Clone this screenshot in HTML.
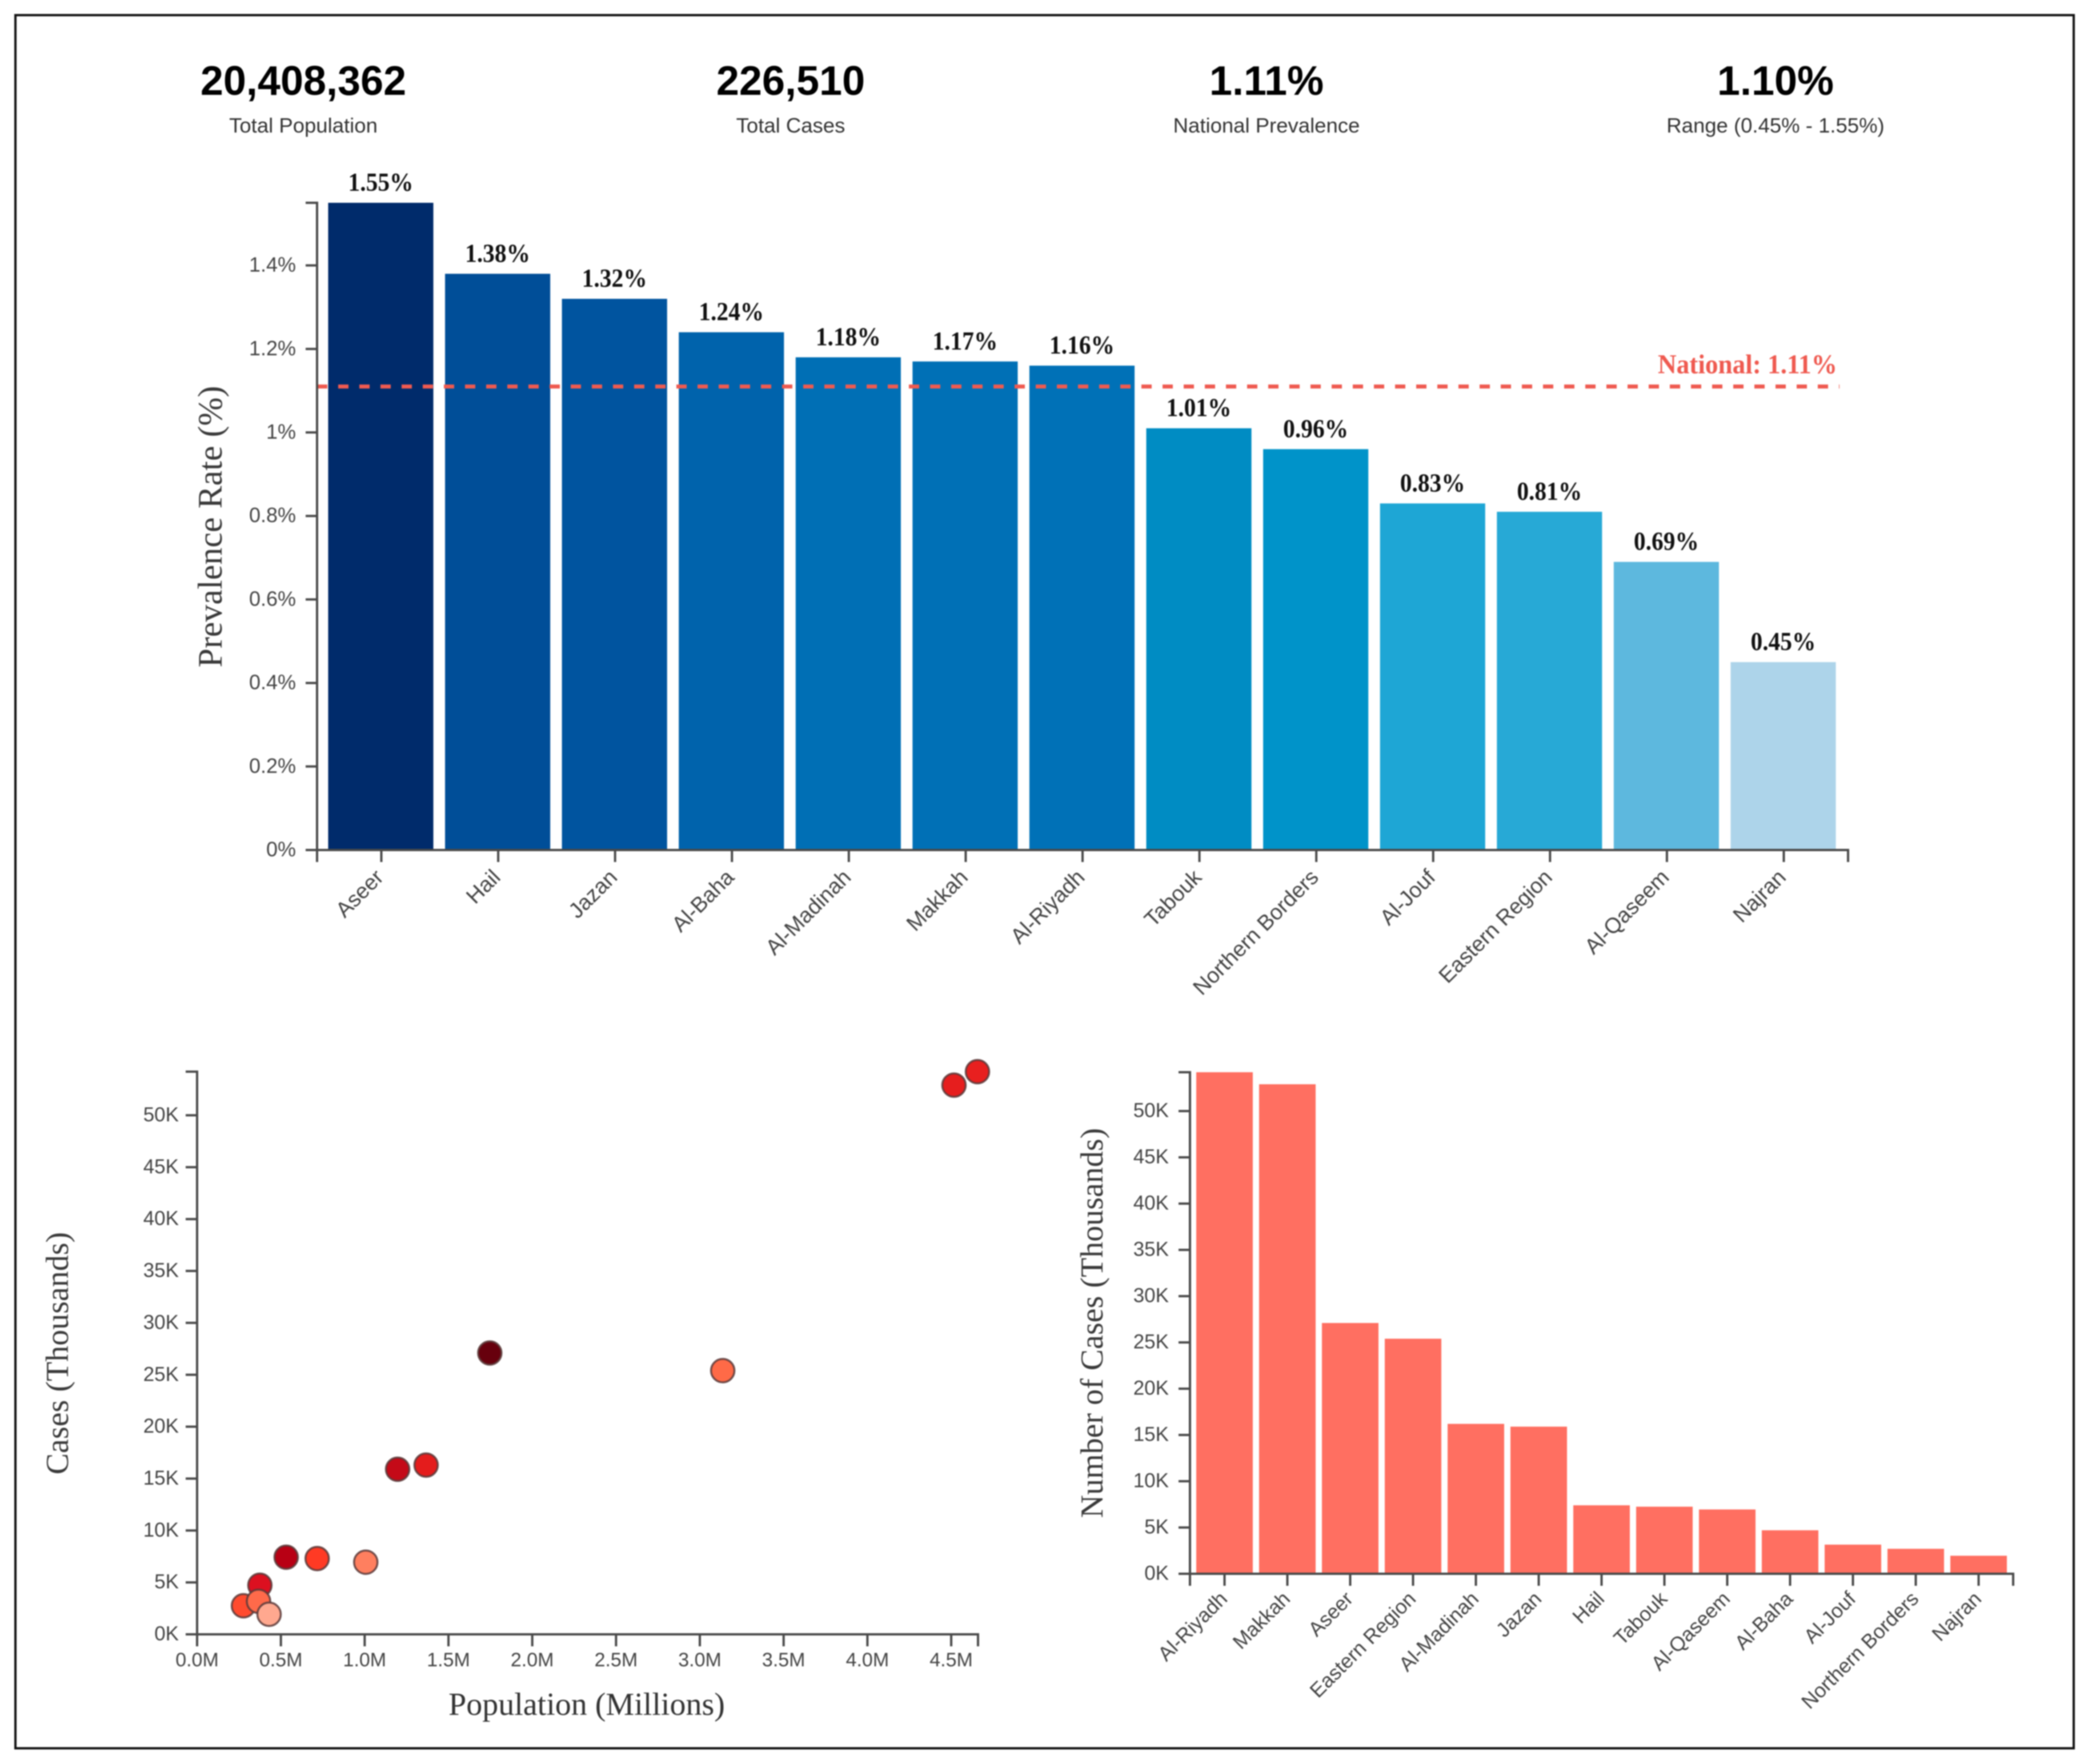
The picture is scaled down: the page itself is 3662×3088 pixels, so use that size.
<!DOCTYPE html>
<html lang="en">
<head>
<meta charset="utf-8">
<title>Prevalence dashboard</title>
<style>
html,body{margin:0;padding:0;background:#fff;}
#stage{display:block;width:3662px;height:3088px;filter:blur(1.1px);}
text{font-family:"Liberation Sans",sans-serif;}
.serif{font-family:"Liberation Serif",serif;}
</style>
</head>
<body>
<svg id="stage" xmlns="http://www.w3.org/2000/svg" width="3662" height="3088" viewBox="0 0 3662 3088">
  <rect x="0" y="0" width="3662" height="3088" fill="#ffffff"/>
  <rect x="27" y="26.5" width="3603" height="3034" fill="none" stroke="#111" stroke-width="4"/>

  <g text-anchor="middle">
    <text x="531" y="166" font-size="72" font-weight="700" fill="#000">20,408,362</text>
    <text x="531" y="232" font-size="36.5" fill="#333">Total Population</text>
  </g>
  <g text-anchor="middle">
    <text x="1384" y="166" font-size="72" font-weight="700" fill="#000">226,510</text>
    <text x="1384" y="232" font-size="36.5" fill="#333">Total Cases</text>
  </g>
  <g text-anchor="middle">
    <text x="2217" y="166" font-size="72" font-weight="700" fill="#000">1.11%</text>
    <text x="2217" y="232" font-size="36.5" fill="#333">National Prevalence</text>
  </g>
  <g text-anchor="middle">
    <text x="3108" y="166" font-size="72" font-weight="700" fill="#000">1.10%</text>
    <text x="3108" y="232" font-size="36.5" fill="#333">Range (0.45% - 1.55%)</text>
  </g>

  <g id="prevalence-chart"></g>
  <g id="scatter-chart"></g>
  <g id="cases-chart"></g>
</svg>

<script>
/* Prevalence by region (%) */
const prevalenceRegions = ["Aseer","Hail","Jazan","Al-Baha","Al-Madinah","Makkah","Al-Riyadh","Tabouk","Northern Borders","Al-Jouf","Eastern Region","Al-Qaseem","Najran"];
const prevalenceValues = [1.55,1.38,1.32,1.24,1.18,1.17,1.16,1.01,0.96,0.83,0.81,0.69,0.45];
const prevalenceTickValues = [0,0.2,0.4,0.6,0.8,1,1.2,1.4];
const prevalenceTickLabels = ["0%","0.2%","0.4%","0.6%","0.8%","1%","1.2%","1.4%"];
const nationalPrevalence = [1.11];

/* Cases by region (thousands) */
const caseRegions = ["Al-Riyadh","Makkah","Aseer","Eastern Region","Al-Madinah","Jazan","Hail","Tabouk","Al-Qaseem","Al-Baha","Al-Jouf","Northern Borders","Najran"];
const caseValues = [54.2,52.9,27.1,25.4,16.2,15.9,7.4,7.25,6.95,4.7,3.15,2.7,1.95];
const caseTickValues = [0,5,10,15,20,25,30,35,40,45,50];
const caseTickLabels = ["0K","5K","10K","15K","20K","25K","30K","35K","40K","45K","50K"];

/* Scatter: population (millions), cases (thousands), prevalence (%) */
const scatterRegions = ["Al-Riyadh","Makkah","Aseer","Eastern Region","Al-Madinah","Jazan","Hail","Tabouk","Al-Qaseem","Al-Baha","Northern Borders","Al-Jouf","Najran"];
const scatterPopulation = [4.66,4.52,1.75,3.14,1.37,1.20,0.535,0.72,1.01,0.378,0.28,0.37,0.433];
const scatterCases = [54.2,52.9,27.1,25.4,16.3,15.9,7.43,7.3,6.95,4.73,2.75,3.18,1.93];
const scatterPrevalence = [1.16,1.17,1.55,0.81,1.18,1.32,1.38,1.01,0.69,1.24,0.96,0.83,0.45];
const populationTickValues = [0,0.5,1,1.5,2,2.5,3,3.5,4,4.5];
const populationTickLabels = ["0.0M","0.5M","1.0M","1.5M","2.0M","2.5M","3.0M","3.5M","4.0M","4.5M"];

const SVG_NS = "http://www.w3.org/2000/svg";
const AXIS = "#4a4a4a";
const TICK_TEXT = "#444";

function el(parent, tag, attrs, txt) {
  const n = document.createElementNS(SVG_NS, tag);
  for (const k in attrs) n.setAttribute(k, attrs[k]);
  if (txt !== undefined) n.textContent = txt;
  parent.appendChild(n);
  return n;
}
function linear(d0, d1, r0, r1) { return v => r0 + (v - d0) / (d1 - d0) * (r1 - r0); }
function band(count, r0, r1, pad) {
  const step = (r1 - r0) / (count - pad + 2 * pad);
  return { step, width: step * (1 - pad), start: i => r0 + step * pad + i * step };
}
function hex(c) { return [1,3,5].map(i => parseInt(c.slice(i, i + 2), 16)); }
function ramp(stops) {
  return v => {
    if (v <= stops[0][0]) return stops[0][1];
    for (let i = 1; i < stops.length; i++) {
      if (v <= stops[i][0]) {
        const t = (v - stops[i-1][0]) / (stops[i][0] - stops[i-1][0]);
        const a = hex(stops[i-1][1]), b = hex(stops[i][1]);
        return "rgb(" + a.map((x, j) => Math.round(x + (b[j] - x) * t)).join(",") + ")";
      }
    }
    return stops[stops.length - 1][1];
  };
}
const blueScale = ramp([[0.45,"#add4ea"],[0.69,"#5db8de"],[0.81,"#27a9d6"],[0.83,"#1ea6d5"],[0.96,"#0093c9"],[1.01,"#008cc3"],[1.16,"#0071b7"],[1.18,"#006fb5"],[1.24,"#0063ac"],[1.32,"#00549f"],[1.38,"#004e98"],[1.55,"#002b6b"]]);
const redScale = ramp([[0.45,"#ffa88f"],[0.69,"#ff7f5f"],[0.81,"#ff6a47"],[0.83,"#ff6a4a"],[0.96,"#ff4b2f"],[1.01,"#ff3a24"],[1.16,"#e8201f"],[1.18,"#e41c1c"],[1.24,"#dc1020"],[1.32,"#c40a18"],[1.38,"#b80014"],[1.55,"#67000d"]]);

function leftAxis(g, name, x, y, ticks, labels, top, bottom, fontSize, labelGap) {
  const axis = el(g, "g", {});
  
  
  const line = el(axis, "path", { d: "M" + (x - 20) + "," + top + "H" + x + "V" + bottom + "H" + (x - 20), fill: "none", stroke: AXIS, "stroke-width": 4 });
  
  
  ticks.forEach((t, i) => {
    const mark = el(axis, "line", { x1: x - 20, x2: x, y1: y(t), y2: y(t), stroke: AXIS, "stroke-width": 4 });
    
    
    const label = el(axis, "text", { x: x - labelGap, y: y(t) + fontSize * 0.36 - 2, "text-anchor": "end", "font-size": fontSize, fill: TICK_TEXT }, labels[i]);
    
    
  });
}
function categoryAxis(g, name, x0, x1, y0, b, regions, fontSize, dx, dy) {
  const axis = el(g, "g", {});
  
  
  const line = el(axis, "path", { d: "M" + x0 + "," + (y0 + 21) + "V" + y0 + "H" + x1 + "V" + (y0 + 21), fill: "none", stroke: AXIS, "stroke-width": 4 });
  
  
  regions.forEach((r, i) => {
    const cx = b.start(i) + b.width / 2;
    const mark = el(axis, "line", { x1: cx, x2: cx, y1: y0, y2: y0 + 21, stroke: AXIS, "stroke-width": 4 });
    
    
    const lx = cx + dx, ly = y0 + dy;
    const label = el(axis, "text", { x: lx, y: ly, "text-anchor": "end", "font-size": fontSize, fill: TICK_TEXT, transform: "rotate(-45 " + lx + " " + ly + ")" }, r);
    
    
  });
}
function rotatedTitle(g, name, txt, x, y, size) {
  const t = el(g, "text", { x: x, y: y, "text-anchor": "middle", "font-size": size, fill: "#3a3a3a", class: "serif", transform: "rotate(-90 " + x + " " + y + ")" }, txt);
  
  
}

/* ---------- Prevalence bar chart ---------- */
(function () {
  const g = document.getElementById("prevalence-chart");
  const x0 = 555, x1 = 3235, y0 = 1488, yTop = 355;
  const maxV = Math.max.apply(null, prevalenceValues);
  const y = linear(0, maxV, y0, yTop);
  const b = band(prevalenceRegions.length, x0, x1, 0.1);

  prevalenceValues.forEach((v, i) => {
    const bar = el(g, "rect", { x: b.start(i) - 1, y: y(v), width: b.width, height: y0 - y(v), fill: blueScale(v) });
    
    
    const label = el(g, "text", { x: b.start(i) + b.width / 2 - 1, y: y(v) - 21, "text-anchor": "middle", "font-size": 45, "font-weight": 700, fill: "#111", class: "serif", textLength: 114, lengthAdjust: "spacingAndGlyphs" }, v.toFixed(2) + "%");
    
    
  });

  const national = nationalPrevalence[0];
  const ref = el(g, "line", { x1: x0, x2: 3220, y1: y(national), y2: y(national), stroke: "#ef5a50", "stroke-width": 7, "stroke-dasharray": "18 19" });
  
  
  const refLabel = el(g, "text", { x: 3216, y: y(national) - 23, "text-anchor": "end", "font-size": 48, "font-weight": 700, fill: "#ef5a50", class: "serif", textLength: 314, lengthAdjust: "spacingAndGlyphs" }, "National: " + national.toFixed(2) + "%");
  
  

  leftAxis(g, 'prevalence', x0, y, prevalenceTickValues, prevalenceTickLabels, yTop, y0, 36, 37);
  categoryAxis(g, 'prevalence', x0, x1, y0, b, prevalenceRegions, 38, 6, 50);
  rotatedTitle(g, 'prevalence-y-axis-title', "Prevalence Rate (%)", 388, 922, 60);
})();

/* ---------- Scatter ---------- */
(function () {
  const g = document.getElementById("scatter-chart");
  const x0 = 345, x1 = 1712, y0 = 2861, yTop = 1876;
  const x = linear(0, Math.max.apply(null, scatterPopulation), x0, x1);
  const y = linear(0, Math.max.apply(null, scatterCases), y0, yTop);

  leftAxis(g, 'scatter', x0, y, caseTickValues, caseTickLabels, yTop, y0, 35, 32);
  const axis = el(g, "g", {});
  
  
  const line = el(axis, "path", { d: "M" + x0 + "," + (y0 + 21) + "V" + y0 + "H" + x1 + "V" + (y0 + 21), fill: "none", stroke: AXIS, "stroke-width": 4 });
  
  
  populationTickValues.forEach((t, i) => {
    const mark = el(axis, "line", { x1: x(t), x2: x(t), y1: y0, y2: y0 + 21, stroke: AXIS, "stroke-width": 4 });
    
    
    const label = el(axis, "text", { x: x(t), y: y0 + 56, "text-anchor": "middle", "font-size": 34, fill: TICK_TEXT }, populationTickLabels[i]);
    
    
  });

  scatterRegions.forEach((r, i) => {
    const dot = el(g, "circle", { cx: x(scatterPopulation[i]) - 1, cy: y(scatterCases[i]), r: 20.5, fill: redScale(scatterPrevalence[i]), stroke: "#5a3a3a", "stroke-width": 3.5, "stroke-opacity": 0.85 });
    
    
  });

  const xt = el(g, "text", { x: 1027, y: 3002, "text-anchor": "middle", "font-size": 56, fill: "#333", class: "serif" }, "Population (Millions)");
  
  
  rotatedTitle(g, 'scatter-y-axis-title', "Cases (Thousands)", 119, 2369, 56);
})();

/* ---------- Cases bar chart ---------- */
(function () {
  const g = document.getElementById("cases-chart");
  const x0 = 2083, x1 = 3524, y0 = 2755, yTop = 1877;
  const y = linear(0, Math.max.apply(null, caseValues), y0, yTop);
  const b = band(caseRegions.length, x0, x1, 0.1);

  caseValues.forEach((v, i) => {
    const bar = el(g, "rect", { x: b.start(i), y: y(v), width: b.width, height: y0 - y(v), fill: "#ff6f61" });
    
    
  });
  leftAxis(g, 'cases', x0, y, caseTickValues, caseTickLabels, yTop, y0, 35, 37);
  categoryAxis(g, 'cases', x0, x1, y0, b, caseRegions, 35.5, 7, 46);
  rotatedTitle(g, 'cases-y-axis-title', "Number of Cases (Thousands)", 1930, 2316, 56);
})();
</script>
</body>
</html>
